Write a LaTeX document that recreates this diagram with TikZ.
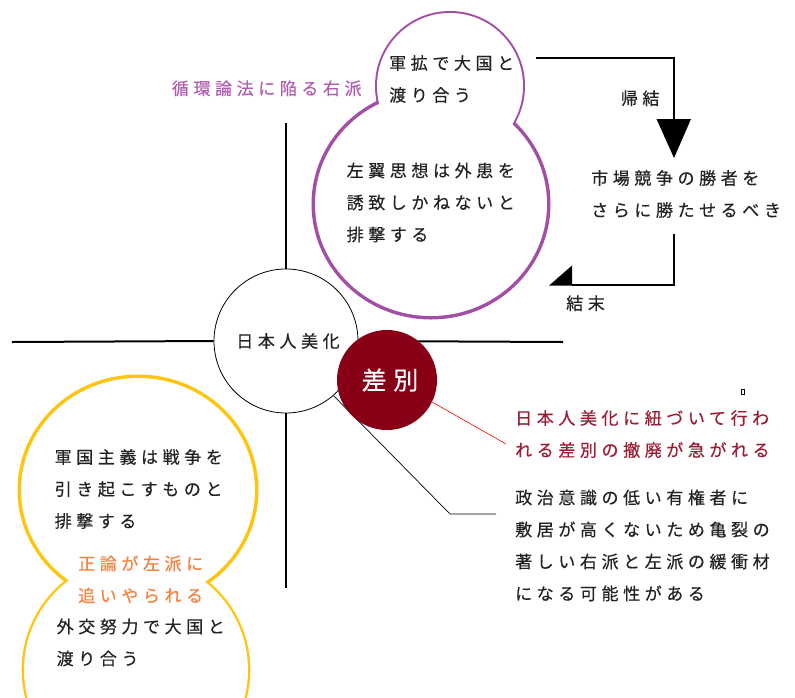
\documentclass[tikz,border=0pt]{standalone}
\usepackage{fontspec}
\newfontfamily\jp[LetterSpace=27,FakeBold=0.4]{Noto Sans CJK JP}
\definecolor{purp}{RGB}{163,78,165}
\definecolor{purplbl}{RGB}{178,92,178}
\definecolor{gold}{RGB}{255,196,12}
\definecolor{orng}{RGB}{248,128,60}
\definecolor{wine}{RGB}{135,0,22}
\definecolor{winetext}{RGB}{158,28,52}
\definecolor{ink}{RGB}{35,35,35}
\newcommand\js{\rule[-0.12em]{0pt}{1em}}
\begin{document}
\begin{tikzpicture}[x=1pt,y=-1pt,
  txt/.style={anchor=west,inner sep=0pt,align=left,font=\jp\fontsize{17}{32}\selectfont,text=ink},
  axisline/.style={line width=2pt,black},
  bracket/.style={line width=1.2pt,black},
  thinlink/.style={line width=0.7pt,black}]
\useasboundingbox (0,0) rectangle (795,697);
\fill[white] (0,0) rectangle (795,697);

% purple double circle
\draw[purp,line width=4pt] (450,86) circle[radius=73];
\draw[purp,line width=7pt] (431,204) ellipse[x radius=116,y radius=112];
\fill[white] (450,86) circle[radius=73];
\fill[white] (431,204) ellipse[x radius=116,y radius=112];

% yellow double circle
\draw[gold,line width=7pt] (138,490) ellipse[x radius=117,y radius=112];
\draw[gold,line width=4.6pt] (136,670) circle[radius=112];
\fill[white] (138,490) ellipse[x radius=117,y radius=112];
\fill[white] (136,670) circle[radius=112];

% central node
\node[circle,draw=black,line width=0.8pt,fill=white,minimum size=144pt,inner sep=0pt,
  font=\jp\fontsize{17}{17}\selectfont,text=ink] (bi) at (286,341) {\hspace*{4pt}日本人美化};

\coordinate (ntop) at (286,123);
\coordinate (nbot) at (286,588);
\coordinate (wend) at (12,342);
\coordinate (eend) at (563,342);
\draw[axisline] (ntop) -- (bi.north);
\draw[axisline] (bi.south) -- (nbot);
\draw[axisline] (wend) -- (bi.west);
\draw[axisline] (bi.east) -- (eend);

\coordinate (d1) at (450,514);
\coordinate (d2) at (496,514);
\draw[thinlink] (bi.-49) -- (d1) -- (d2);

\node[circle,fill=wine,minimum size=100pt,inner sep=0pt,text=white,
  font=\jp\fontsize{25}{25}\selectfont] (sb) at (387,380) {\hspace*{6pt}差別};
\coordinate (r1) at (506,444);
\draw[red,line width=0.6pt] (sb.-26) -- (r1);

% texts
\node[txt,text=purplbl] (lbl) at (171.7,88.3) {\js 循環論法に陥る右派};
\node[txt] (t1) at (389,79) {\js 軍拡で大国と\\\js 渡り合う};
\node[txt] (t2) at (346.5,202.5) {\js 左翼思想は外患を\\\js 誘致しかねないと\\\js 排撃する};
\node[txt] (kk) at (620.7,98.3) {\js 帰結};
\node[txt] (mk) at (591,194) {\js 市場競争の勝者を\\\js さらに勝たせるべき};
\node[txt] (km) at (566,303.3) {\js 結末};
\node[txt,text=winetext] (rt) at (515,434) {\js 日本人美化に紐づいて行わ\\\js れる差別の撤廃が急がれる};
\node[txt] (bt) at (515,545.5) {\js 政治意識の低い有権者に\\\js 敷居が高くないため亀裂の\\\js 著しい右派と左派の緩衝材\\\js になる可能性がある};
\node[txt] (y1) at (54.5,489) {\js 軍国主義は戦争を\\\js 引き起こすものと\\\js 排撃する};
\node[txt,text=orng] (ot) at (78,579.5) {\js 正論が左派に\\\js 追いやられる};
\node[txt] (y2) at (56.5,642.5) {\js 外交努力で大国と\\\js 渡り合う};

% brackets with arrows
\coordinate (a0) at (536,58);
\coordinate (a1) at (674,58);
\coordinate (a2) at (674,119);
\draw[bracket] (a0) -- (a1) -- (a2);
\fill[black] (656.5,119) -- (691,119) -- (674,158) -- cycle;
\coordinate (b0) at (674,234);
\coordinate (b1) at (674,285);
\coordinate (b2) at (572,285);
\draw[bracket] (b0) -- (b1) -- (b2);
\fill[black] (572,265.5) -- (572,285.6) -- (549,285.6) -- cycle;

% tiny mark
\draw[line width=0.7pt] (741,389) rectangle (744,394);
\end{tikzpicture}
\end{document}
